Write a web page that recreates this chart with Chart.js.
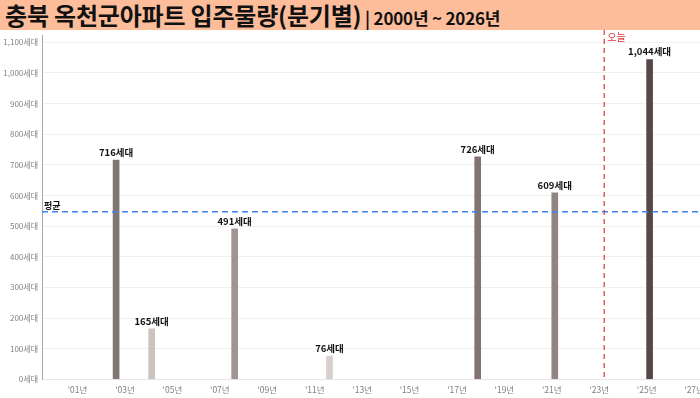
<!DOCTYPE html>
<html>
<head>
<meta charset="utf-8">
<script src="https://cdn.jsdelivr.net/npm/chart.js@4"></script>
<style>
  html, body { margin: 0; padding: 0; background: #fff; }
  body { width: 700px; height: 398px; overflow: hidden; font-family: 'Noto Sans CJK KR', sans-serif; }
  #title {
    height: 30px; background: #fdbd9b; color: #111;
    font-weight: bold; white-space: nowrap; padding-left: 5px;
    line-height: 30px; box-sizing: border-box;
  }
  #title .main { font-size: 24px; letter-spacing: -0.2px; }
  #title .sub { font-size: 17px; letter-spacing: -0.2px; }
  #wrap { position: relative; width: 700px; height: 368px; }
</style>
</head>
<body>
<div id="title"><span class="main">충북 옥천군아파트 입주물량(분기별)</span><span class="sub"> | 2000년 ~ 2026년</span></div>
<div id="wrap"><canvas id="my-chart"></canvas></div>
<script>
// quarterly move-in supply (only quarters with supply)
const supplyYears = [2002, 2004, 2007, 2011, 2017, 2021, 2025]
const supplyQuarters = [3, 1, 3, 3, 4, 1, 1]
const supplyUnits = [716, 165, 491, 76, 726, 609, 1044]

const xTickYears = [2001, 2003, 2005, 2007, 2009, 2011, 2013, 2015, 2017, 2019, 2021, 2023, 2025, 2027]
const yTickValues = [0, 100, 200, 300, 400, 500, 600, 700, 800, 900, 1000, 1100]
const todayYear = 2023.21

const avgUnits = supplyUnits.reduce((a, b) => a + b, 0) / supplyUnits.length
const maxUnits = Math.max(...supplyUnits)

// light -> dark brown-gray by value
const barColor = (v) => {
  const t = v / maxUnits
  const lo = [226, 218, 215], hi = [86, 72, 70]
  const c = lo.map((l, i) => Math.round(l + (hi[i] - l) * t))
  return `rgb(${c[0]}, ${c[1]}, ${c[2]})`
}

const points = supplyYears.map((y, i) => ({ x: y + (supplyQuarters[i] - 0.5) / 4, y: supplyUnits[i] }))

Chart.defaults.font.family = "'Noto Sans CJK KR', sans-serif"

const noPad = (scale) => {
  scale.paddingLeft = 0
  scale.paddingRight = 0
  scale.paddingTop = 0
  scale.paddingBottom = 0
}

const refLines = {
  id: 'refLines',
  afterDatasetsDraw(chart) {
    const { ctx, chartArea, scales } = chart
    ctx.save()
    // average
    const ay = scales.y.getPixelForValue(avgUnits)
    ctx.strokeStyle = '#4283f0'
    ctx.lineWidth = 1.5
    ctx.setLineDash([6, 4])
    ctx.beginPath()
    ctx.moveTo(chartArea.left, ay)
    ctx.lineTo(chartArea.right, ay)
    ctx.stroke()
    ctx.fillStyle = '#111'
    ctx.font = "bold 9px 'Noto Sans CJK KR'"
    ctx.textAlign = 'left'
    ctx.textBaseline = 'bottom'
    ctx.fillText('평균', chartArea.left + 2, ay - 2)
    // today
    const tx = scales.x.getPixelForValue(todayYear)
    ctx.strokeStyle = '#e5323c'
    ctx.lineWidth = 1.2
    ctx.setLineDash([5, 4])
    ctx.beginPath()
    ctx.moveTo(tx, 0)
    ctx.lineTo(tx, chartArea.bottom)
    ctx.stroke()
    ctx.fillStyle = '#d9333c'
    ctx.font = "10px 'Noto Sans CJK KR'"
    ctx.textBaseline = 'top'
    ctx.fillText('오늘', tx + 3, 2)
    // bar labels
    ctx.fillStyle = '#111'
    ctx.font = "bold 9.5px 'Noto Sans CJK KR'"
    ctx.textAlign = 'center'
    ctx.textBaseline = 'bottom'
    chart.getDatasetMeta(0).data.forEach((bar, i) => {
      ctx.fillText(supplyUnits[i].toLocaleString('en-US') + '세대', bar.x, bar.y - 3)
    })
    ctx.restore()
  }
}

const ctx = document.getElementById('my-chart').getContext('2d')
const chart = new Chart(ctx, {
  type: 'bar',
  data: {
    datasets: [{
      data: points,
      backgroundColor: supplyUnits.map(barColor),
      barThickness: 6
    }]
  },
  options: {
    responsive: true,
    maintainAspectRatio: false,
    animation: false,
    layout: { padding: { top: 5, right: 0, left: 0, bottom: 0 } },
    plugins: { legend: { display: false }, tooltip: { enabled: false } },
    scales: {
      x: {
        type: 'linear',
        offset: false,
        min: 1999.5,
        max: 2027.25,
        grid: { display: false, drawTicks: false, offset: false },
        border: { color: '#e6e6e6' },
        afterBuildTicks: (scale) => { scale.ticks = xTickYears.map(v => ({ value: v })) },
        afterFit: (scale) => { scale.height = 18.7; noPad(scale) },
        ticks: {
          color: '#808080',
          font: { size: 8.5 },
          padding: 5,
          maxRotation: 0,
          autoSkip: false,
          callback: (v) => "'" + String(v).slice(2) + '년'
        }
      },
      y: {
        min: 0,
        max: 1124,
        grid: { color: '#f0f0f0', drawTicks: false },
        border: { color: '#a8a8a8' },
        afterBuildTicks: (scale) => { scale.ticks = yTickValues.map(v => ({ value: v })) },
        afterFit: (scale) => { scale.width = 42; noPad(scale) },
        ticks: {
          color: '#808080',
          font: { size: 8 },
          padding: 4,
          callback: (v) => v.toLocaleString('en-US') + '세대'
        }
      }
    }
  },
  plugins: [refLines]
})
</script>
</body>
</html>
